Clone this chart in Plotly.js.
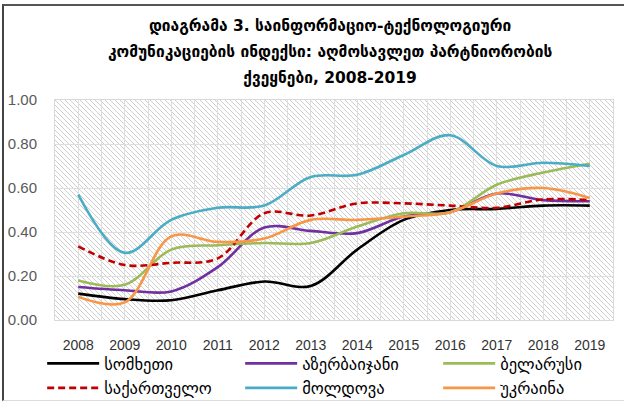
<!DOCTYPE html>
<html>
<head>
<meta charset="utf-8">
<script src="https://cdn.plot.ly/plotly-3.0.1.min.js"></script>
<style>
  html, body { margin: 0; padding: 0; background: #fff; }
  #wrap { position: relative; width: 624px; height: 403px; overflow: hidden; background: #fff; }
  #frame { position: absolute; left: 2px; top: 4px; width: 640px; height: 397px;
           border-left: 2px solid #444; border-top: 2px solid #555; border-bottom: 1px solid #ddd; box-sizing: border-box; }
  #hatch { position: absolute; left: 55px; top: 100px; width: 558px; height: 220px;
           background-image: url("data:image/svg+xml;utf8,<svg xmlns='http://www.w3.org/2000/svg' width='5' height='5'><path d='M0,0L5,5M-1,4L1,6M4,-1L6,1' stroke='%23cfcfcf' stroke-width='1'/></svg>"); }
  #chart { position: absolute; left: 0; top: 0; width: 624px; height: 403px; }
</style>
</head>
<body>
<div id="wrap">
  <div id="frame"></div>
  <div id="hatch"></div>
  <div id="chart"></div>
</div>
<script>
const years = [2008, 2009, 2010, 2011, 2012, 2013, 2014, 2015, 2016, 2017, 2018, 2019];
const yearLabels = ["2008","2009","2010","2011","2012","2013","2014","2015","2016","2017","2018","2019"];

const armenia    = [0.12, 0.095, 0.09, 0.135, 0.175, 0.155, 0.32, 0.455, 0.50, 0.505, 0.52, 0.52];
const azerbaijan = [0.15, 0.135, 0.13, 0.24, 0.42, 0.405, 0.395, 0.47, 0.49, 0.575, 0.545, 0.54];
const belarus    = [0.18, 0.16, 0.32, 0.34, 0.35, 0.35, 0.425, 0.485, 0.49, 0.615, 0.67, 0.71];
const georgia    = [0.335, 0.25, 0.26, 0.28, 0.485, 0.475, 0.53, 0.53, 0.52, 0.51, 0.548, 0.545];
const moldova    = [0.57, 0.305, 0.455, 0.51, 0.52, 0.65, 0.66, 0.75, 0.84, 0.70, 0.715, 0.70];
const ukraine    = [0.105, 0.08, 0.38, 0.355, 0.37, 0.455, 0.455, 0.47, 0.49, 0.575, 0.60, 0.555];

const names = ["სომხეთი", "აზერბაიჯანი", "ბელარუსი", "საქართველო", "მოლდოვა", "უკრაინა"];
const colors = ["#000000", "#7030A0", "#9BBB59", "#C00000", "#4BACC6", "#F79646"];
const series = [armenia, azerbaijan, belarus, georgia, moldova, ukraine];

const traces = series.map((vals, i) => ({
  type: "scatter",
  mode: "lines",
  x: years,
  y: vals,
  name: names[i],
  line: { color: colors[i], width: 2.6, shape: "spline", smoothing: 1,
          dash: i === 3 ? "7px,4px" : "solid" },
  hoverinfo: "x+y+name"
}));

const titleLines = ["დიაგრამა 3. საინფორმაციო-ტექნოლოგიური",
                    "კომუნიკაციების ინდექსი: აღმოსავლეთ პარტნიორობის",
                    "ქვეყნები, 2008-2019"];

const layout = {
  width: 624, height: 403,
  paper_bgcolor: "rgba(0,0,0,0)",
  plot_bgcolor: "rgba(0,0,0,0)",
  margin: { l: 55, r: 11, t: 100, b: 83, autoexpand: false },
  title: {
    text: titleLines.map(t => "<span style='font-size:15.5px'>" + t + "</span>").join("<br>"),
    font: { family: "DejaVu Sans, sans-serif", size: 20, color: "#000", weight: "bold" },
    xref: "container", x: 0.529, xanchor: "center",
    yref: "container", y: 0.922, yanchor: "top"
  },
  xaxis: {
    range: [2007.5, 2019.5],
    tickmode: "array", tickvals: years, ticktext: yearLabels,
    showgrid: true, gridcolor: "#dedede", gridwidth: 1,
    minor: { tickmode: "linear", tick0: 2007.5, dtick: 1, showgrid: true, gridcolor: "#dedede", gridwidth: 1, ticks: "" },
    showline: true, linecolor: "#d9d9d9", linewidth: 1, mirror: true,
    zeroline: false, ticks: "",
    tickfont: { family: "Liberation Sans, Arial, sans-serif", size: 14, color: "#333" },
    ticklabelstandoff: 12,
    fixedrange: true
  },
  yaxis: {
    range: [0, 1], tickmode: "linear", tick0: 0, dtick: 0.2, tickformat: ".2f",
    showgrid: true, gridcolor: "#dedede", gridwidth: 1,
    showline: true, linecolor: "#d9d9d9", linewidth: 1, mirror: true,
    zeroline: false, ticks: "",
    tickfont: { family: "Liberation Sans, Arial, sans-serif", size: 15, color: "#595959" },
    ticklabelstandoff: 14,
    fixedrange: true
  },
  showlegend: true,
  legend: {
    orientation: "h",
    x: -0.023, xanchor: "left",
    y: -0.119, yanchor: "top",
    entrywidth: 131, entrywidthmode: "pixels",
    itemwidth: 52,
    tracegroupgap: 0,
    font: { family: "DejaVu Sans, sans-serif", size: 16.5, color: "#000" },
    bgcolor: "rgba(0,0,0,0)"
  }
};

Plotly.newPlot("chart", traces, layout, { displayModeBar: false, staticPlot: true });
</script>
</body>
</html>
